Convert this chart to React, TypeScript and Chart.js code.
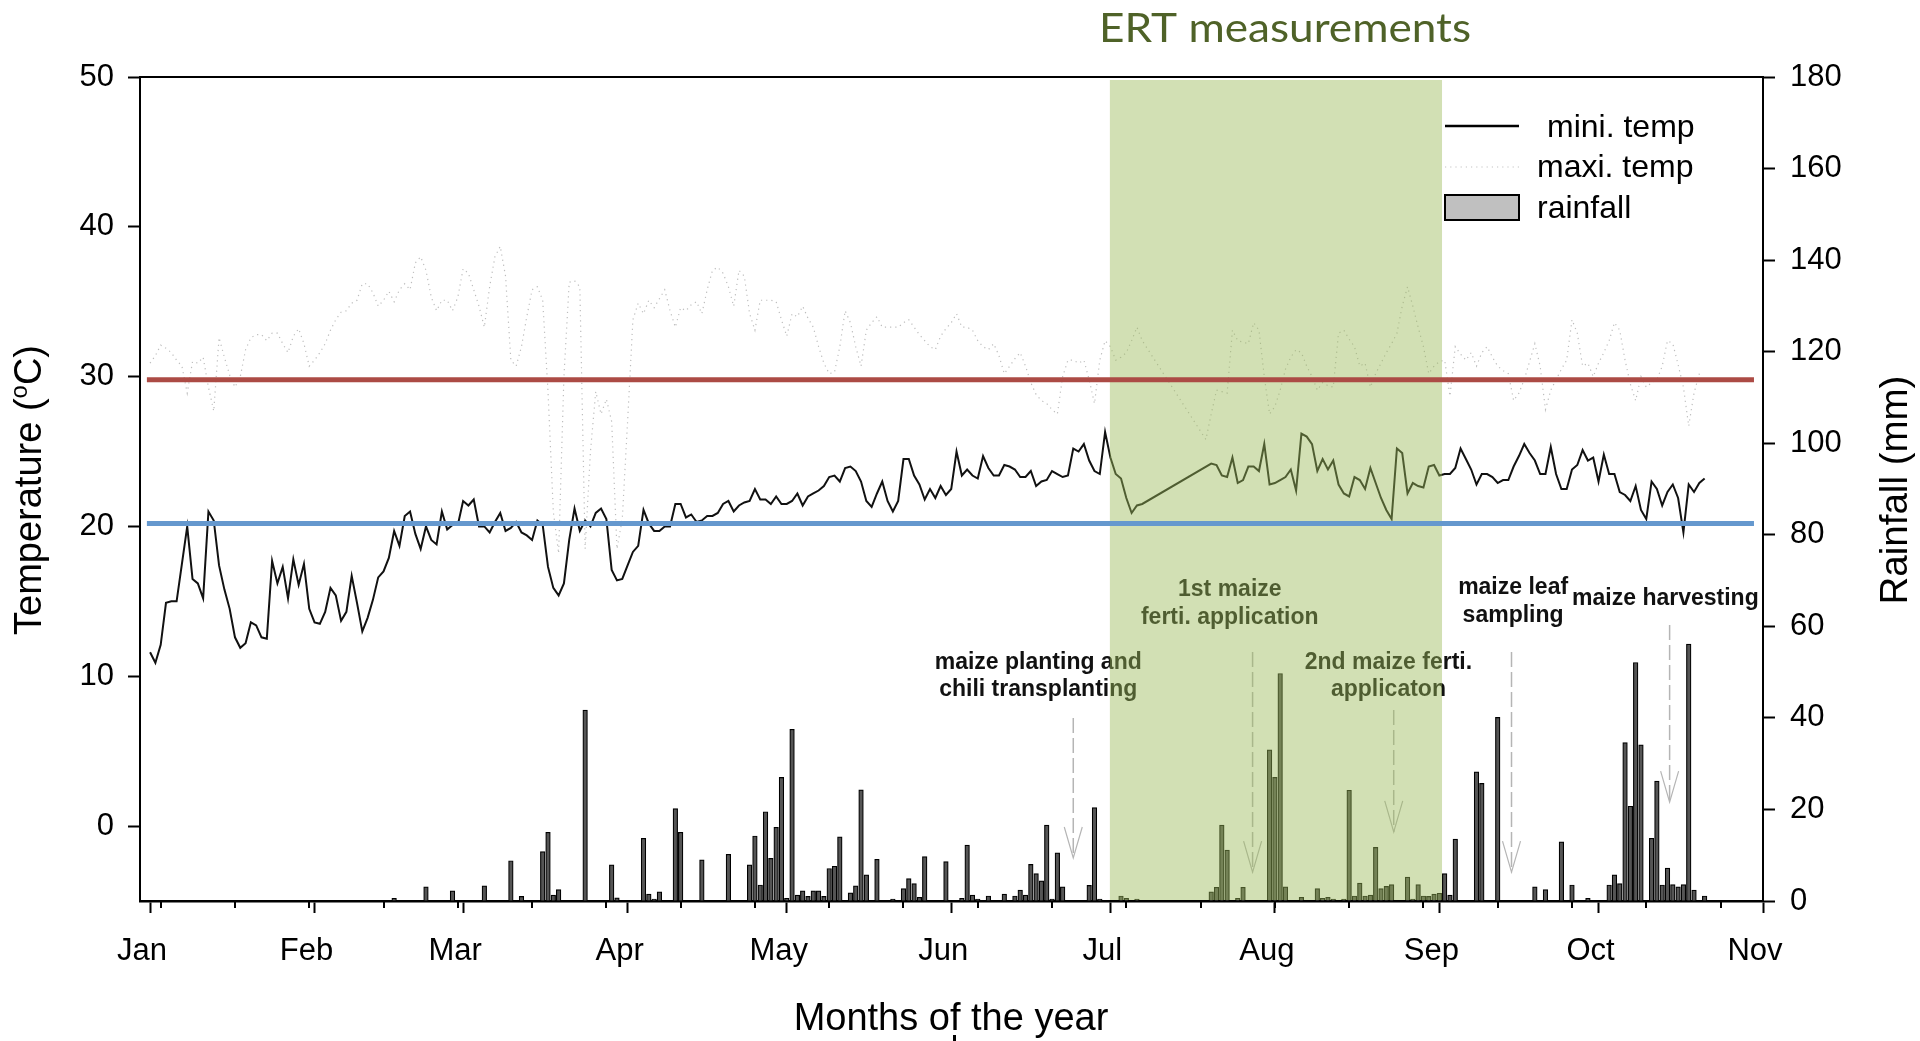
import React, { useEffect, useRef } from 'react';
import { Chart, registerables } from 'chart.js';

Chart.register(...registerables);

// ---------- axes / ticks ----------
const monthStarts = [0, 31, 59, 90, 120, 151, 181, 212, 243, 273, 304];
const monthLabels = ['Jan', 'Feb', 'Mar', 'Apr', 'May', 'Jun', 'Jul', 'Aug', 'Sep', 'Oct', 'Nov'];
const minorTickStart = 2;
const minorTickStep = 14;
const tempTicks = [0, 10, 20, 30, 40, 50];
const rainTicks = [0, 20, 40, 60, 80, 100, 120, 140, 160, 180];

// ---------- minimum temperature (day of year, daily) ----------
const minTempStartA = 0;
const minTempA = [
  11.6, 10.9, 12.1, 14.9, 15.0, 15.0, 17.5, 20.0, 16.5, 16.2,
  15.2, 21.0, 20.4, 17.4, 15.8, 14.5, 12.6, 11.9, 12.2, 13.6,
  13.4, 12.6, 12.5, 17.7, 16.2, 17.3, 15.2, 17.8, 16.1, 17.5,
  14.5, 13.6, 13.5, 14.3, 15.9, 15.4, 13.7, 14.3, 16.7, 14.9,
  13.0, 13.9, 15.1, 16.6, 17.0, 17.9, 19.7, 18.7, 20.7, 21.0,
  19.5, 18.5, 20.0, 19.1, 18.8, 21.0, 19.8, 20.1, 20.1, 21.7,
  21.4, 21.8, 20.0, 20.0, 19.6, 20.3, 20.9, 19.7, 19.9, 20.3,
  19.6, 19.4, 19.1, 20.4, 20.1, 17.3, 15.9, 15.4, 16.2, 19.1,
  21.2, 19.7, 20.4, 20.0, 20.9, 21.2, 20.5, 17.1, 16.4, 16.5,
  17.4, 18.3, 18.7, 21.1, 20.2, 19.7, 19.7, 20.0, 20.0, 21.5,
  21.5, 20.6, 20.8, 20.3, 20.4, 20.7, 20.7, 20.9, 21.5, 21.7,
  21.0, 21.4, 21.6, 21.7, 22.5, 21.8, 21.8, 21.5, 22.0, 21.5,
  21.5, 21.7, 22.2, 21.4, 22.0, 22.2, 22.4, 22.7, 23.3, 23.4,
  23.0, 23.9, 24.0, 23.7, 23.0, 21.7, 21.3, 22.2, 23.0, 21.7,
  21.0, 21.7, 24.5, 24.5, 23.4, 22.8, 21.8, 22.5, 21.9, 22.7,
  22.1, 22.5, 25.0, 23.4, 23.8, 23.4, 23.2, 24.7, 23.9, 23.4,
  23.4, 24.1, 24.0, 23.8, 23.3, 23.3, 23.7, 22.7, 23.0, 23.1,
  23.7, 23.5, 23.3, 23.4, 25.2, 25.0, 25.5, 24.4, 23.7, 23.5,
  26.3, 24.6, 23.5, 23.2, 21.9, 20.9, 21.4, 21.5,
];
const minTempStartB = 200;
const minTempB = [
  24.2, 24.1, 23.4, 23.3, 24.6, 22.9, 23.1, 24.0, 24.0, 23.7,
  25.5, 22.8, 22.9, 23.1, 23.3, 23.8, 22.4, 26.2, 26.0, 25.5,
  23.7, 24.5, 23.8, 24.4, 22.8, 22.2, 22.0, 23.3, 23.1, 22.5,
  23.9, 22.9, 21.9, 21.1, 20.5, 25.2, 24.9, 22.2, 22.9, 22.7,
  22.6, 24.0, 24.1, 23.4, 23.5, 23.5, 23.9, 25.2, 24.5, 23.8,
  22.8, 23.5, 23.5, 23.3, 22.9, 23.1, 23.1, 24.0, 24.7, 25.5,
  24.9, 24.4, 23.5, 23.5, 25.3, 23.5, 22.5, 22.5, 23.8, 24.1,
  25.1, 24.4, 24.6, 23.0, 24.8, 23.5, 23.5, 22.3, 22.1, 21.7,
  22.7, 21.1, 20.5, 23.0, 22.5, 21.4, 22.3, 22.8, 21.9, 19.6,
  22.8, 22.3, 22.9, 23.2,
];

// ---------- maximum temperature ----------
const maxTempStartA = 0;
const maxTempA = [
  30.9, 31.4, 32.1, 31.9, 31.6, 31.1, 30.7, 28.9, 31.0, 30.9,
  31.3, 29.3, 27.7, 32.6, 31.3, 30.1, 29.3, 30.0, 31.8, 32.6,
  32.8, 32.8, 32.4, 32.9, 32.9, 32.2, 31.6, 32.7, 33.2, 32.2,
  30.7, 31.1, 31.6, 32.2, 33.1, 33.8, 34.3, 34.4, 34.9, 35.1,
  36.2, 36.2, 35.6, 34.7, 35.1, 35.7, 35.0, 35.8, 36.2, 35.8,
  37.6, 38.0, 37.1, 35.3, 34.4, 35.1, 35.1, 34.4, 35.3, 37.2,
  36.9, 35.8, 34.7, 33.3, 36.0, 38.0, 38.7, 36.7, 31.1, 30.7,
  32.0, 34.0, 35.8, 36.0, 35.1, 29.0, 21.0, 18.2, 30.0, 36.3,
  36.4, 36.0, 18.5, 25.0, 29.0, 27.5, 28.5, 27.0, 18.5, 20.5,
  27.0, 33.8, 34.9, 34.2, 35.1, 34.6, 35.2, 35.8, 34.4, 33.3,
  34.6, 34.4, 34.8, 35.0, 34.2, 35.8, 37.1, 37.3, 36.9, 36.0,
  34.7, 37.1, 36.7, 34.2, 33.1, 35.1, 35.1, 35.1, 35.0, 33.8,
  32.7, 34.2, 34.0, 34.7, 33.9, 33.3, 32.0, 30.9, 30.2, 30.3,
  32.0, 34.4, 33.6, 32.0, 30.7, 33.1, 33.6, 34.0, 33.3, 33.3,
  33.3, 33.3, 33.6, 33.8, 33.3, 32.8, 32.4, 32.0, 31.8, 32.7,
  33.2, 33.6, 34.2, 33.3, 33.3, 33.1, 32.4, 32.0, 31.8, 32.2,
  31.4, 30.2, 30.7, 31.2, 31.6, 30.7, 29.6, 28.8, 28.4, 28.2,
  27.8, 27.5, 30.0, 31.1, 31.1, 30.9, 31.1, 29.8, 28.2, 31.1,
  32.4, 32.0, 31.1, 31.3, 31.6, 32.4, 33.3, 32.4,
];
const maxTempStartB = 199;
const maxTempB = [
  25.8, 27.5, 29.1, 29.0, 28.9, 33.1, 32.4, 32.3, 32.2, 33.6,
  33.1, 30.0, 27.5, 28.0, 29.1, 30.5, 31.3, 31.8, 31.6, 30.7,
  30.0, 29.1, 29.6, 29.4, 29.3, 32.9, 33.1, 32.5, 32.0, 30.7,
  30.9, 29.3, 30.2, 30.9, 31.6, 32.2, 32.9, 34.7, 36.0, 34.7,
  33.3, 32.0, 30.2, 30.7, 31.0, 31.1, 28.7, 32.0, 31.5, 31.1,
  31.6, 30.7, 31.6, 32.0, 31.3, 30.7, 30.4, 30.2, 28.4, 28.9,
  29.8, 31.0, 32.2, 30.7, 27.8, 29.1, 29.8, 30.5, 31.1, 33.8,
  32.9, 30.7, 30.9, 30.0, 30.9, 31.6, 32.4, 33.6, 33.1, 31.1,
  29.5, 28.4, 30.0, 29.3, 29.6, 29.8, 30.7, 32.4, 32.2, 30.8,
  29.3, 26.7, 28.9, 30.2,
];

// ---------- rainfall (day of year, mm) ----------
const rainDays = [
  46, 52, 57, 63, 68, 70, 74, 75, 76, 77,
  82, 87, 88, 93, 94, 95, 96, 99, 100, 104,
  109, 113, 114, 115, 116, 117, 118, 119, 120, 121,
  122, 123, 124, 125, 126, 127, 128, 129, 130, 132,
  133, 134, 135, 137, 140, 142, 143, 144, 145, 146,
  150, 153, 154, 155, 156, 158, 161, 163, 164, 165,
  166, 167, 168, 169, 170, 171, 172, 177, 178, 179,
  183, 184, 186, 200, 201, 202, 203, 205, 206, 211,
  212, 213, 214, 217, 220, 221, 222, 223, 225, 226,
  227, 228, 229, 230, 231, 232, 233, 234, 237, 238,
  239, 240, 241, 242, 243, 244, 245, 246, 250, 251,
  254, 261, 263, 266, 268, 271, 275, 276, 277, 278,
  279, 280, 281, 283, 284, 285, 286, 287, 288, 289,
  290, 291, 293,
];
const rainMm = [
  0.6, 3.1, 2.2, 3.3, 8.8, 1.0, 10.8, 15.0, 1.3, 2.5,
  41.7, 7.9, 0.7, 13.7, 1.5, 0.4, 2.0, 20.2, 15.0, 9.0,
  10.2, 7.9, 14.2, 3.5, 19.5, 9.3, 16.1, 27.0, 0.6, 37.5,
  1.3, 2.2, 1.0, 2.2, 2.2, 1.0, 7.1, 7.6, 14.0, 1.8,
  3.3, 24.3, 5.7, 9.1, 0.4, 2.7, 4.9, 3.8, 0.8, 9.7,
  8.6, 0.6, 12.2, 1.3, 0.4, 1.1, 1.5, 1.1, 2.4, 1.3,
  8.0, 6.0, 4.4, 16.6, 0.4, 10.5, 3.1, 3.4, 20.4, 0.4,
  1.1, 0.6, 0.4, 2.0, 3.0, 16.6, 11.1, 0.6, 3.0, 33.0,
  27.0, 49.7, 3.1, 0.8, 2.7, 0.6, 0.8, 0.4, 0.4, 24.2,
  1.1, 3.9, 1.1, 1.3, 11.7, 2.7, 3.2, 3.6, 5.2, 0.4,
  3.6, 1.1, 1.0, 1.5, 1.7, 6.0, 1.3, 13.5, 28.2, 25.7,
  40.1, 3.1, 2.5, 12.9, 3.5, 0.6, 3.5, 5.7, 3.8, 34.6,
  20.7, 52.1, 34.1, 13.7, 26.2, 3.5, 7.2, 3.6, 3.1, 3.6,
  56.1, 2.4, 1.1,
];

// ---------- reference lines & ERT period ----------
const refHighTemp = 29.8;
const refLowTemp = 20.2;
const refSpan = [-0.6, 302.3];
const ertPeriod = [180.9, 243.5];

// ---------- annotations (day, rainfall-axis units) ----------
const annotationLines = [
  ['maize planting and', 'chili transplanting'],
  ['1st maize', 'ferti. application'],
  ['2nd maize ferti.', 'applicaton'],
  ['maize leaf', 'sampling'],
  ['maize harvesting'],
];
const annotationDay = [167.4, 203.5, 233.4, 256.9, 285.6];
const annotationBase = [[50.7, 44.8], [66.6, 60.5], [50.7, 44.8], [67.1, 60.9], [64.7]];
const arrowDay = [174.0, 207.8, 234.4, 256.6, 286.4];
const arrowTop = [40.0, 54.4, 41.7, 54.4, 60.3];
const arrowTip = [9.4, 6.3, 15.1, 6.3, 21.6];

const FONT = '"Liberation Sans", Arial, Helvetica, sans-serif';
const MIN_INDEX = 2;

const toPts = (start: number, vals: number[]) => vals.map((v, i) => ({ x: start + i, y: v }));

export default function App() {
  const ref = useRef<HTMLCanvasElement>(null);

  useEffect(() => {
    const canvas = ref.current!;
    const minData = [...toPts(minTempStartA, minTempA), ...toPts(minTempStartB, minTempB)];
    const maxData = [...toPts(maxTempStartA, maxTempA), ...toPts(maxTempStartB, maxTempB)];
    const barData = rainDays.map((d, i) => ({ x: d, y: rainMm[i] }));

    const decor = {
      id: 'decor',
      beforeDatasetsDraw(chart: any) {
        const { ctx } = chart;
        const x = chart.scales.x;
        const yR = chart.scales.yR;
        ctx.save();
        ctx.font = `bold 23px ${FONT}`;
        ctx.fillStyle = '#111';
        ctx.textAlign = 'center';
        ctx.textBaseline = 'alphabetic';
        annotationLines.forEach((lines, i) => {
          const cx = x.getPixelForValue(annotationDay[i]);
          lines.forEach((t, j) => ctx.fillText(t, cx, yR.getPixelForValue(annotationBase[i][j])));
        });
        arrowDay.forEach((d, i) => {
          const px = x.getPixelForValue(d);
          const y0 = yR.getPixelForValue(arrowTop[i]);
          const y1 = yR.getPixelForValue(arrowTip[i]);
          ctx.strokeStyle = '#b5b5b5';
          ctx.lineWidth = 1.5;
          ctx.setLineDash([15, 5]);
          ctx.beginPath();
          ctx.moveTo(px, y0);
          ctx.lineTo(px, y1);
          ctx.stroke();
          ctx.setLineDash([]);
          ctx.lineWidth = 1.2;
          ctx.beginPath();
          ctx.moveTo(px - 9, y1 - 31);
          ctx.lineTo(px, y1);
          ctx.lineTo(px + 9, y1 - 31);
          ctx.stroke();
        });
        ctx.restore();
      },
      afterDatasetDraw(chart: any, args: any) {
        if (args.index !== MIN_INDEX) return;
        const { ctx, chartArea } = chart;
        const x = chart.scales.x;
        const x0 = x.getPixelForValue(ertPeriod[0]);
        const x1 = x.getPixelForValue(ertPeriod[1]);
        ctx.save();
        ctx.fillStyle = 'rgba(155,187,89,0.45)';
        ctx.fillRect(x0, chartArea.top + 3, x1 - x0, chartArea.bottom - chartArea.top - 4);
        ctx.restore();
      },
      afterDraw(chart: any) {
        const { ctx, chartArea } = chart;
        const x = chart.scales.x;
        ctx.save();
        // top frame line
        ctx.strokeStyle = '#000';
        ctx.lineWidth = 2;
        ctx.beginPath();
        ctx.moveTo(chartArea.left, chartArea.top);
        ctx.lineTo(chartArea.right, chartArea.top);
        ctx.stroke();
        // minor ticks
        ctx.lineWidth = 2;
        for (let d = minorTickStart; d < 304; d += minorTickStep) {
          const px = Math.round(x.getPixelForValue(d));
          ctx.beginPath();
          ctx.moveTo(px, chartArea.bottom);
          ctx.lineTo(px, chartArea.bottom + 7);
          ctx.stroke();
        }
        // legend
        ctx.strokeStyle = '#000';
        ctx.lineWidth = 2.5;
        ctx.beginPath();
        ctx.moveTo(1445, 126);
        ctx.lineTo(1519, 126);
        ctx.stroke();
        ctx.strokeStyle = '#c4c4c4';
        ctx.lineWidth = 1.2;
        ctx.setLineDash([1.2, 4]);
        ctx.beginPath();
        ctx.moveTo(1445, 167);
        ctx.lineTo(1519, 167);
        ctx.stroke();
        ctx.setLineDash([]);
        ctx.fillStyle = '#c0c0c0';
        ctx.fillRect(1445, 195, 74, 25);
        ctx.strokeStyle = '#000';
        ctx.lineWidth = 2;
        ctx.strokeRect(1445, 195, 74, 25);
        ctx.fillStyle = '#000';
        ctx.font = `32px ${FONT}`;
        ctx.textAlign = 'left';
        ctx.textBaseline = 'alphabetic';
        ctx.fillText('mini. temp', 1547, 137);
        ctx.fillText('maxi. temp', 1537, 177);
        ctx.fillText('rainfall', 1537, 218);
        // x title
        ctx.font = `38px ${FONT}`;
        ctx.textAlign = 'center';
        ctx.fillText('Months of the year', 951, 1030);
        ctx.fillRect(953, 1035, 3, 6);
        // left title with superscript
        ctx.save();
        ctx.translate(41, 490);
        ctx.rotate(-Math.PI / 2);
        ctx.textAlign = 'left';
        ctx.font = `38px ${FONT}`;
        const w1 = ctx.measureText('Temperature (').width;
        const w3 = ctx.measureText('C)').width;
        ctx.font = `24px ${FONT}`;
        const w2 = ctx.measureText('o').width;
        const sx = -(w1 + w2 + w3) / 2;
        ctx.font = `38px ${FONT}`;
        ctx.fillText('Temperature (', sx, 0);
        ctx.fillText('C)', sx + w1 + w2, 0);
        ctx.font = `24px ${FONT}`;
        ctx.fillText('o', sx + w1, -14);
        ctx.restore();
        // right title
        ctx.save();
        ctx.translate(1907, 490);
        ctx.rotate(-Math.PI / 2);
        ctx.textAlign = 'center';
        ctx.font = `38.5px ${FONT}`;
        ctx.fillText('Rainfall (mm)', 0, 0);
        ctx.restore();
        // ERT title
        ctx.save();
        ctx.font = '40px Lato, "Open Sans", sans-serif';
        const tw = ctx.measureText('ERT measurements').width;
        ctx.translate(1285, 42);
        ctx.scale(372 / tw, 1);
        ctx.fillStyle = '#4F6228';
        ctx.textAlign = 'center';
        ctx.fillText('ERT measurements', 0, 0);
        ctx.restore();
        ctx.restore();
      },
    };

    const tickFont = { family: FONT, size: 31 };

    const chart = new Chart(canvas, {
      type: 'bar',
      data: {
        datasets: [
          {
            type: 'line',
            data: [{ x: refSpan[0], y: refHighTemp }, { x: refSpan[1], y: refHighTemp }],
            yAxisID: 'yT',
            borderColor: '#AC4B45',
            borderWidth: 5,
            pointRadius: 0,
            order: 0,
          } as any,
          {
            type: 'line',
            data: [{ x: refSpan[0], y: refLowTemp }, { x: refSpan[1], y: refLowTemp }],
            yAxisID: 'yT',
            borderColor: '#6598CE',
            borderWidth: 5,
            pointRadius: 0,
            order: 0,
          } as any,
          {
            type: 'line',
            data: minData,
            yAxisID: 'yT',
            borderColor: '#111',
            borderWidth: 2,
            pointRadius: 0,
            tension: 0,
            order: 1,
          } as any,
          {
            type: 'line',
            data: maxData,
            yAxisID: 'yT',
            borderColor: '#bdbdbd',
            borderWidth: 1.2,
            borderDash: [1.2, 4],
            pointRadius: 0,
            tension: 0,
            order: 2,
          } as any,
          {
            type: 'bar',
            data: barData,
            yAxisID: 'yR',
            backgroundColor: '#555',
            borderColor: '#000',
            borderWidth: 1.2,
            barThickness: 4.6,
            order: 3,
          } as any,
        ],
      },
      options: {
        responsive: false,
        devicePixelRatio: 1,
        animation: false,
        events: [],
        layout: { padding: { top: 77, left: 0, right: 0, bottom: 0 } },
        plugins: { legend: { display: false }, tooltip: { enabled: false } },
        scales: {
          x: {
            type: 'linear',
            min: -1.9,
            max: 304,
            offset: false,
            grid: { drawOnChartArea: false, drawTicks: true, tickLength: 12, tickWidth: 2, tickColor: '#000', offset: false },
            border: { display: true, color: '#000', width: 2.5 },
            ticks: {
              autoSkip: false,
              maxRotation: 0,
              minRotation: 0,
              color: '#000',
              font: tickFont,
              padding: 20,
              labelOffset: -8,
              callback: (v: any) => {
                const i = monthStarts.indexOf(Number(v));
                return i >= 0 ? monthLabels[i] : '';
              },
            },
            afterBuildTicks: (s: any) => { s.ticks = monthStarts.map((v) => ({ value: v })); },
            afterFit: (s: any) => { s.height = 140; },
          },
          yT: {
            type: 'linear',
            position: 'left',
            min: -5,
            max: 50,
            grid: { drawOnChartArea: false, drawTicks: true, tickLength: 12, tickWidth: 2, tickColor: '#000' },
            border: { display: true, color: '#000', width: 2 },
            ticks: { color: '#000', font: tickFont, padding: 14 },
            afterBuildTicks: (s: any) => { s.ticks = tempTicks.map((v) => ({ value: v })); },
            afterFit: (s: any) => { s.width = 140; },
          },
          yR: {
            type: 'linear',
            position: 'right',
            min: 0,
            max: 180,
            grid: { drawOnChartArea: false, drawTicks: true, tickLength: 12, tickWidth: 2, tickColor: '#000' },
            border: { display: true, color: '#000', width: 2 },
            ticks: { color: '#000', font: tickFont, padding: 15 },
            afterBuildTicks: (s: any) => { s.ticks = rainTicks.map((v) => ({ value: v })); },
            afterFit: (s: any) => { s.width = 157; },
          },
        },
      } as any,
      plugins: [decor],
    });
    return () => chart.destroy();
  }, []);

  return (
    <div style={{ position: 'fixed', left: 0, top: 0, width: 1920, height: 1041, background: '#fff' }}>
      <canvas ref={ref} width={1920} height={1041} style={{ display: 'block', width: 1920, height: 1041 }} />
    </div>
  );
}
